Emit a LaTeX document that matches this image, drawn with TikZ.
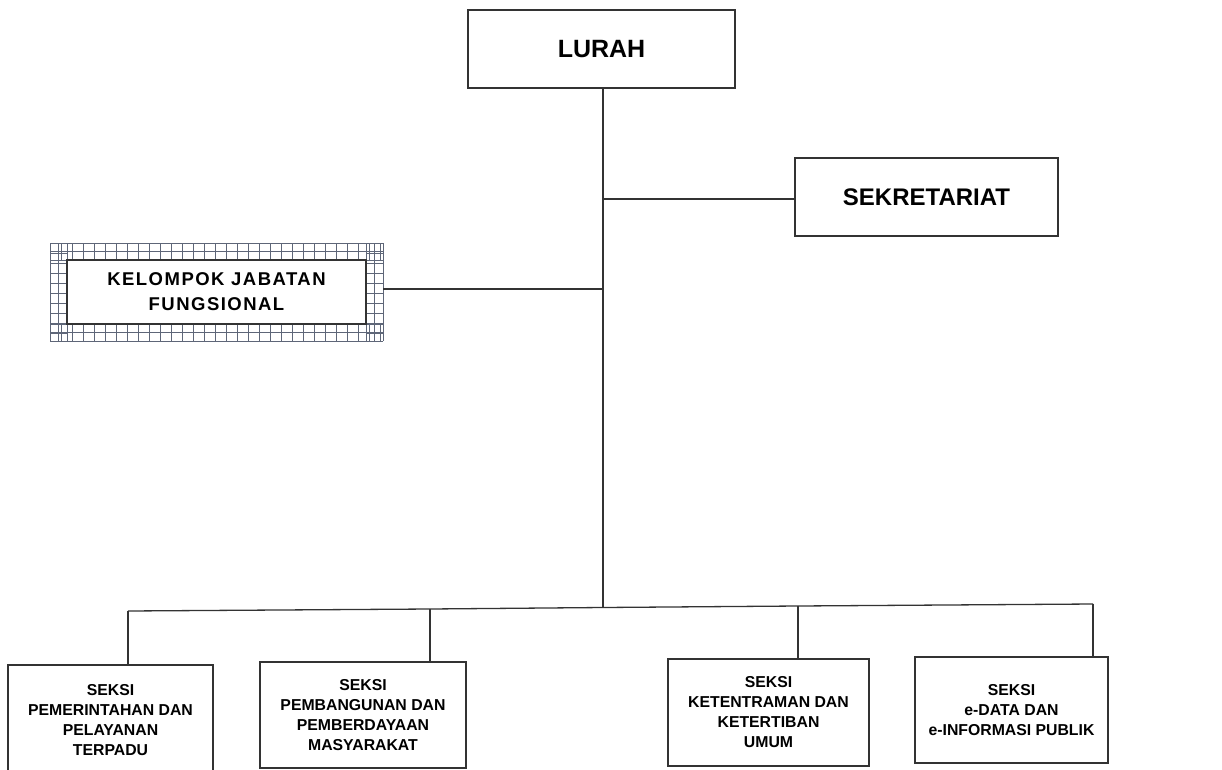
\documentclass[tikz,border=0pt]{standalone}
\usepackage{fontspec}
\setmainfont{Liberation Sans}
\definecolor{gridc}{HTML}{5E6678}
\begin{document}
\begin{tikzpicture}[x=1pt,y=-1pt,
  ln/.style={draw=black!80, line width=1.3pt},
  box/.style={draw=black!80, line width=1.6pt, fill=white, inner sep=0pt, align=center, font=\bfseries},
  seksi/.style={box, font=\fontsize{15.8}{20}\selectfont\bfseries},
  gridln/.style={draw=gridc, line width=1pt}]
\useasboundingbox (0,0) rectangle (1222,770);
\fill[white] (0,0) rectangle (1222,770);
% nodes
\node[box, minimum width=267pt, minimum height=78pt, font=\fontsize{25}{30}\selectfont\bfseries] (lurah) at (601.5,49) {LURAH};
\node[box, minimum width=263pt, minimum height=78pt, font=\fontsize{24}{28}\selectfont\bfseries] (sek) at (926.5,197) {SEKRETARIAT};
% kelompok frame
\coordinate (kA) at (50,243);
\coordinate (kB) at (383,341);
\fill[white] (kA) rectangle (kB);
\foreach \x in {50,61,...,383} {
  \draw[gridln] (\x,243) -- (\x,260);
  \draw[gridln] (\x,324) -- (\x,341);
}
\foreach \y in {243,251.5,260,324,332.5,341} {
  \draw[gridln] (50,\y) -- (383,\y);
}
\foreach \y in {243,253,...,341} {
  \draw[gridln] (50,\y) -- (67,\y);
  \draw[gridln] (366,\y) -- (383,\y);
}
\foreach \x in {50,58.5,67,366,374.5,383} {
  \draw[gridln] (\x,243) -- (\x,341);
}
\node[box, minimum width=299pt, minimum height=64pt, font=\fontsize{18.5}{25}\selectfont\bfseries] (kel) at (216.5,292) {\addfontfeatures{LetterSpace=8}KELOMPOK JABATAN\\\addfontfeatures{LetterSpace=8}FUNGSIONAL};
\coordinate (kelE) at (383,289);
% bottom boxes
\node[seksi, minimum width=205pt, minimum height=110pt] (s1) at (110.5,720) {SEKSI\\PEMERINTAHAN DAN\\PELAYANAN\\TERPADU};
\node[seksi, minimum width=206pt, minimum height=106pt] (s2) at (363,715) {SEKSI\\PEMBANGUNAN DAN\\PEMBERDAYAAN\\MASYARAKAT};
\node[seksi, minimum width=201pt, minimum height=107pt] (s3) at (768.5,712.5) {SEKSI\\KETENTRAMAN DAN\\KETERTIBAN\\UMUM};
\node[seksi, minimum width=193pt, minimum height=106pt] (s4) at (1011.5,710) {SEKSI\\e-DATA DAN\\e-INFORMASI PUBLIK};
% connectors
\coordinate (t0) at (603,88);
\coordinate (tj) at (603,607.5);
\coordinate (b1) at (128,611);
\coordinate (b2) at (430,609);
\coordinate (b3) at (798,606);
\coordinate (b4) at (1093,604);
\draw[ln] (t0) -- (tj);
\draw[ln] (b1) -- (b2) -- (tj) -- (b3) -- (b4);
\draw[ln] ([yshift=-2pt]sek.west) -- ([yshift=-2pt]sek.west -| t0);
\draw[ln] (kelE) -- (kelE -| t0);
\draw[ln] (b1) -- (b1 |- s1.north);
\draw[ln] (b2) -- (b2 |- s2.north);
\draw[ln] (b3) -- (b3 |- s3.north);
\draw[ln] (b4) -- (b4 |- s4.north);
\end{tikzpicture}
\end{document}
